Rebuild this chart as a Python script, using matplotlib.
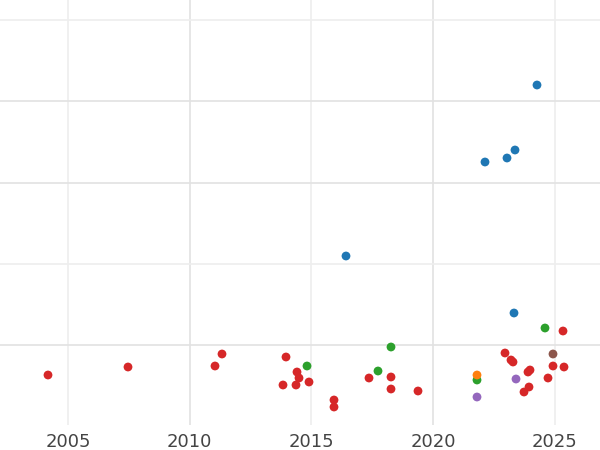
import matplotlib
matplotlib.use("Agg")
import matplotlib.pyplot as plt

# pixel readings converted to data units (year, arbitrary y)
def yr(px):
    return 2002.21 + px / 24.35

def yv(py):
    return 1 + (345 - py) / 81.25

blue = [(537, 85), (485, 162), (507, 158), (515, 150), (346, 256), (514, 313)]
green = [(545, 328), (391, 347), (307, 366), (378, 371), (477, 380)]
orange = [(477, 375)]
brown = [(553, 354)]
purple = [(516, 379), (477, 397)]
red = [(48, 375), (128, 367), (222, 354), (215, 366), (286, 357), (297, 372),
       (299, 378), (283, 385), (296, 385), (309, 382), (334, 400), (334, 407),
       (369, 378), (391, 377), (391, 389), (418, 391), (505, 353), (511, 360),
       (513, 362), (528, 372), (530, 370), (563, 331), (553, 366), (564, 367),
       (548, 378), (529, 387), (524, 392)]

series = [(red, "#d62728"), (green, "#2ca02c"), (blue, "#1f77b4"),
          (orange, "#ff7f0e"), (brown, "#8c564b"), (purple, "#9467bd")]

fig = plt.figure(figsize=(6, 4.5), dpi=100)
ax = fig.add_axes([0, 425 / 450 * 0 + 25 / 450 * 1.0, 1, 425 / 450])

for xv, c in [(2005, "#eeeeee"), (2010, "#e2e2e2"), (2015, "#eeeeee"),
              (2020, "#e2e2e2"), (2025, "#eeeeee")]:
    ax.axvline(xv, color=c, lw=1.2, zorder=0)
for h, c in [(1, "#e2e2e2"), (2, "#eeeeee"), (3, "#e2e2e2"), (4, "#e2e2e2"), (5, "#eeeeee")]:
    ax.axhline(h, color=c, lw=1.2, zorder=0)

for pts, c in series:
    ax.scatter([yr(p[0]) for p in pts], [yv(p[1]) for p in pts], s=40, color=c,
               edgecolors="none", zorder=3)

ax.set_xlim(yr(0), yr(600))
ax.set_ylim(yv(425), yv(0))
ax.set_xticks([2005, 2010, 2015, 2020, 2025])
ax.set_yticks([])
ax.tick_params(axis="x", length=0, labelsize=13, colors="#444444", pad=6)
for s in ax.spines.values():
    s.set_visible(False)

fig.savefig("out.png")
